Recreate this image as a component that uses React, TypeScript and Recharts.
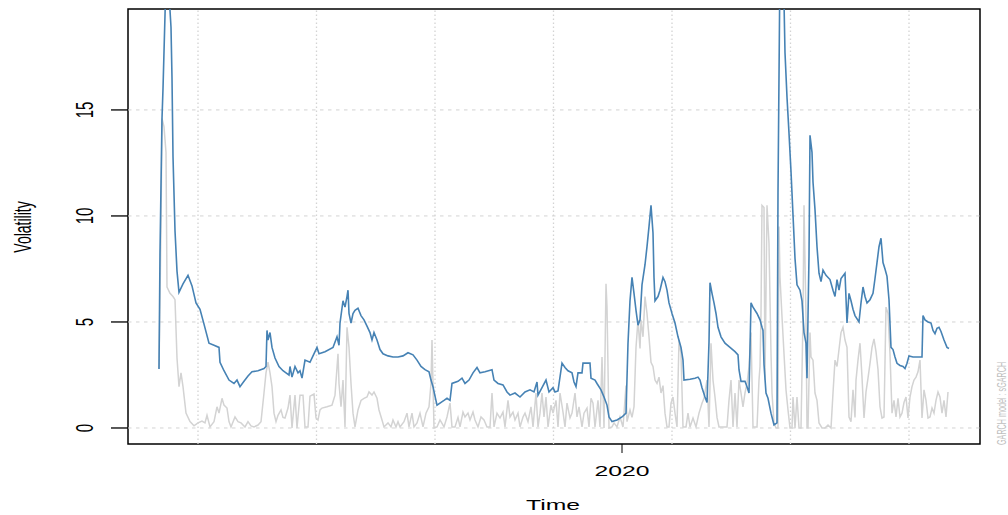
import { LineChart, Line, XAxis, YAxis, ReferenceLine, ReferenceArea } from "recharts";

// day index from the first observation, value in %
const sigma: [number, number][] = [
  [0, 2.78], [1, 8.25], [3, 14.6], [4, 16.0], [7, 21.2], [10, 20.5], [12, 18.9], [13, 16.5], [14, 12.8], [16, 9.3],
  [18, 7.4], [20, 6.4], [24, 6.8], [29, 7.2], [33, 6.7], [37, 5.9], [41, 5.6], [45, 4.9], [50, 4.0], [55, 3.9],
  [60, 3.8], [61, 3.1], [65, 2.7], [70, 2.26], [75, 2.1], [78, 2.26], [81, 1.95], [85, 2.2], [89, 2.45], [93, 2.65],
  [99, 2.7], [105, 2.8], [107, 2.9], [108, 4.6], [109, 4.15], [111, 4.5], [113, 3.8], [116, 3.3], [120, 2.9], [124, 2.7],
  [127, 2.6], [130, 2.5], [131, 2.9], [133, 2.4], [136, 2.9], [139, 2.6], [141, 2.7], [143, 2.35], [146, 3.2], [151, 3.1],
  [154, 3.4], [158, 3.8], [160, 3.5], [166, 3.6], [174, 3.8], [178, 4.3], [180, 3.9], [181, 4.95], [184, 6.0], [186, 5.7],
  [188, 6.2], [189, 6.5], [190, 5.4], [192, 4.95], [194, 5.4], [196, 5.55], [199, 5.65], [202, 5.3], [205, 5.1], [208, 4.8],
  [211, 4.5], [213, 4.15], [215, 4.5], [218, 4.15], [221, 3.7], [224, 3.5], [229, 3.4], [234, 3.35], [239, 3.35], [244, 3.4],
  [249, 3.55], [254, 3.45], [258, 3.2], [262, 2.9], [266, 2.75], [270, 2.65], [272, 2.26], [274, 1.95], [276, 1.5], [278, 1.08],
  [285, 1.3], [288, 1.4], [291, 1.3], [293, 2.1], [299, 2.2], [303, 2.35], [306, 2.1], [310, 2.26], [314, 2.6], [318, 2.85],
  [321, 2.6], [326, 2.65], [333, 2.75], [335, 2.26], [339, 2.1], [344, 2.03], [348, 1.7], [351, 1.55], [356, 1.65], [361, 1.46],
  [366, 1.7], [371, 1.8], [375, 1.7], [378, 2.17], [379, 1.55], [383, 1.9], [387, 2.26], [390, 1.7], [394, 1.9], [396, 1.7],
  [399, 1.75], [403, 3.06], [406, 2.85], [409, 2.7], [413, 2.6], [415, 2.17], [417, 1.95], [419, 2.6], [423, 2.6], [424, 3.06],
  [431, 3.06], [432, 2.35], [436, 2.26], [438, 2.1], [442, 1.8], [445, 1.46], [448, 1.08], [450, 0.52], [453, 0.3], [458, 0.38],
  [463, 0.52], [467, 0.7], [469, 4.0], [471, 6.0], [473, 7.1], [475, 6.35], [477, 5.55], [479, 4.85], [481, 5.1], [483, 6.75],
  [486, 7.7], [488, 8.55], [490, 9.5], [492, 10.5], [494, 9.2], [495, 7.1], [496, 6.0], [499, 6.2], [501, 6.5], [504, 7.1],
  [506, 6.9], [508, 6.5], [510, 5.9], [513, 5.4], [516, 4.95], [519, 4.3], [522, 3.8], [524, 3.2], [525, 2.26], [531, 2.3],
  [536, 2.35], [539, 2.4], [541, 2.26], [543, 1.9], [546, 1.46], [548, 1.2], [550, 4.05], [551, 6.85], [553, 6.35], [555, 5.9],
  [557, 5.4], [559, 4.75], [562, 4.3], [566, 4.0], [571, 3.8], [576, 3.6], [579, 3.45], [580, 2.75], [582, 2.2], [586, 2.2],
  [588, 1.95], [590, 1.65], [592, 5.9], [594, 5.7], [598, 5.4], [601, 5.1], [603, 4.75], [604, 4.6], [605, 3.0], [607, 1.65],
  [609, 1.4], [612, 0.7], [615, 0.14], [618, 0.24], [619, 11.1], [621, 22.0], [624, 22.5], [626, 17.7], [628, 15.6], [630, 13.9],
  [632, 12.1], [634, 10.05], [636, 8.0], [638, 6.75], [641, 6.5], [643, 6.0], [645, 4.5], [647, 4.0], [648, 2.35], [650, 8.1],
  [651, 13.8], [653, 13.0], [654, 11.6], [656, 10.3], [658, 8.55], [660, 7.3], [662, 6.9], [664, 7.45], [667, 7.2], [671, 7.0],
  [674, 6.5], [676, 6.2], [678, 7.0], [680, 6.5], [682, 7.05], [686, 7.3], [688, 4.95], [690, 6.35], [692, 6.0], [694, 5.6],
  [696, 5.3], [700, 5.0], [702, 5.9], [704, 6.65], [706, 6.2], [708, 5.9], [711, 6.05], [714, 6.35], [716, 7.05], [718, 7.8],
  [720, 8.55], [722, 8.95], [724, 7.8], [726, 7.5], [728, 7.15], [730, 6.05], [732, 3.8], [734, 3.7], [736, 3.35], [738, 3.05],
  [741, 2.95], [744, 2.9], [746, 2.8], [748, 3.05], [750, 3.4], [754, 3.35], [759, 3.35], [763, 3.35], [764, 5.3], [766, 5.1],
  [769, 5.0], [772, 4.95], [774, 4.6], [776, 4.45], [778, 4.7], [780, 4.75], [782, 4.55], [785, 4.15], [788, 3.8], [790, 3.75],
];

const absReturns: [number, number][] = [
  [0, 2.8], [2, 9.5], [3, 14.6], [5, 14.2], [7, 13.0], [8, 6.65], [11, 6.35], [14, 6.2], [16, 6.05], [18, 3.3],
  [20, 1.95], [22, 2.6], [24, 1.95], [27, 0.7], [31, 0.3], [35, 0.1], [39, 0.24], [43, 0.33], [46, 0.24], [48, 0.6],
  [51, 0.05], [55, 0.3], [58, 1.0], [60, 0.7], [63, 1.4], [65, 1.08], [68, 0.94], [70, 0.3], [72, 0.05], [76, 0.52],
  [79, 0.3], [82, 0.24], [86, 0.05], [89, 0.3], [92, 0.1], [95, 0.05], [99, 0.14], [102, 0.3], [105, 1.65], [107, 2.6],
  [109, 3.1], [111, 2.6], [113, 1.95], [115, 0.7], [117, 0.3], [119, 0.6], [122, 0.85], [124, 0.5], [126, 0.47], [129, 0.94],
  [131, 1.55], [133, 0], [136, 1.55], [138, 0], [141, 1.55], [144, 1.55], [146, 0.05], [149, 0.05], [151, 1.5], [155, 1.6],
  [157, 0.47], [159, 0.38], [161, 0.85], [163, 0.94], [168, 1.0], [173, 1.08], [176, 1.55], [179, 3.5], [180, 2.1], [182, 1.0],
  [184, 2.26], [186, 0.05], [188, 4.75], [190, 3.8], [192, 2.1], [194, 0.7], [196, 0.05], [199, 0.85], [202, 1.3], [205, 1.4],
  [208, 1.46], [210, 1.7], [213, 1.55], [215, 1.7], [218, 1.4], [220, 0.85], [223, 0.38], [225, 0.05], [229, 0.24], [232, 0.05],
  [234, 0.38], [237, 0.05], [239, 0.3], [241, 0.05], [245, 0.3], [248, 0.7], [250, 0.05], [253, 0.7], [255, 0.05], [258, 0.24],
  [261, 0.7], [264, 0.05], [267, 0.7], [270, 1.0], [272, 2.1], [273, 4.15], [275, 0], [278, 0.05], [281, 0.38], [282, 0.3],
  [285, 0.05], [288, 0.52], [291, 1.17], [293, 0.05], [296, 0.05], [299, 0.5], [301, 0.05], [304, 0.75], [306, 0.52], [309, 0.7],
  [311, 0.38], [314, 0.75], [316, 0.38], [319, 0.05], [322, 0.52], [325, 0.38], [328, 0.05], [331, 0.05], [333, 1.65], [335, 0.05],
  [338, 0.7], [341, 0.47], [344, 0.75], [346, 0.05], [349, 1.3], [351, 0.52], [354, 0.75], [356, 0.38], [359, 0.7], [361, 0.05],
  [364, 0.52], [366, 0.7], [369, 0.3], [372, 1.0], [374, 0.05], [377, 1.65], [379, 0.05], [381, 0.7], [383, 1.65], [385, 0.52],
  [387, 1.46], [389, 0.05], [392, 1.08], [394, 0.7], [397, 1.3], [399, 0.05], [401, 1.65], [404, 0.75], [406, 0.05], [408, 1.17],
  [411, 0.47], [413, 0.7], [416, 1.65], [418, 0.52], [420, 1.0], [423, 0.05], [425, 0.7], [428, 0.94], [430, 0.05], [432, 1.4],
  [434, 1.17], [436, 0.05], [439, 1.3], [441, 0.05], [443, 3.35], [445, 0], [447, 6.8], [448, 5.7], [450, 0], [453, 0.05],
  [455, 0.24], [458, 0.05], [461, 0.52], [464, 0.05], [467, 2.0], [468, 0.3], [471, 0.85], [473, 0.5], [475, 1.0], [477, 3.8],
  [479, 5.1], [481, 3.75], [482, 5.1], [484, 4.3], [486, 6.2], [488, 5.4], [490, 4.3], [492, 3.1], [494, 2.9], [496, 2.26],
  [498, 2.1], [500, 2.4], [502, 1.65], [504, 2.0], [506, 0.7], [508, 0.05], [510, 0.05], [512, 1.17], [514, 1.46], [516, 0.7],
  [518, 0.05], [520, 4.15], [522, 3.5], [524, 0.05], [527, 0.05], [529, 0.7], [531, 0.05], [534, 0.47], [537, 0.05], [540, 0.7],
  [543, 1.17], [545, 1.4], [548, 2.26], [550, 0.05], [552, 4.0], [554, 2.26], [556, 1.46], [558, 0.5], [560, 0.05], [562, 0.05],
  [565, 0.05], [568, 0.05], [570, 1.3], [572, 2.26], [574, 0.05], [576, 1.65], [578, 0.05], [580, 2.26], [582, 1.65], [584, 1.0],
  [586, 1.65], [588, 2.1], [590, 2.9], [592, 4.5], [594, 0.05], [596, 0.05], [598, 0.05], [600, 2.26], [601, 2.9], [602, 5.4],
  [603, 10.5], [605, 10.4], [606, 2.26], [608, 10.5], [610, 8.7], [612, 3.5], [613, 1.65], [615, 0.24], [617, 0], [619, 0],
  [620, 9.5], [621, 7.1], [623, 5.25], [625, 3.5], [627, 1.8], [629, 0.85], [631, 0], [633, 0], [634, 1.46], [636, 0],
  [638, 1.46], [640, 0], [642, 0], [644, 5.25], [645, 10.5], [647, 5.2], [648, 0], [649, 0], [651, 4.5], [652, 3.35],
  [654, 3.2], [656, 1.65], [658, 1.3], [660, 0.24], [663, 0], [666, 0], [669, 0.14], [672, 0], [674, 1.65], [676, 3.2],
  [678, 2.9], [680, 3.7], [682, 4.5], [684, 4.75], [686, 4.15], [688, 3.8], [690, 0.52], [692, 0.3], [694, 1.8], [696, 0.5],
  [697, 2.26], [699, 3.2], [701, 4.0], [703, 2.4], [705, 0.47], [707, 1.7], [709, 2.35], [711, 3.05], [713, 3.8], [715, 4.2],
  [717, 3.6], [719, 2.75], [721, 1.0], [723, 0.47], [725, 0.52], [727, 5.7], [729, 5.4], [731, 3.5], [733, 0.7], [735, 1.3],
  [737, 0.52], [739, 1.4], [741, 0.52], [743, 0.7], [745, 1.2], [747, 1.46], [749, 0.47], [751, 1.46], [753, 1.95], [755, 2.26],
  [757, 2.4], [759, 2.65], [761, 3.2], [763, 0.47], [765, 1.8], [767, 1.3], [769, 0.47], [771, 0.52], [773, 0.94], [775, 0.7],
  [777, 1.3], [779, 1.7], [781, 1.46], [783, 0.7], [785, 1.3], [787, 0.52], [789, 1.7],
];

const xDomain: [number, number] = [-31, 821];
const yDomain: [number, number] = [-0.755, 19.76];
const yTicks = [0, 5, 10, 15];
const xTicks = [463];
const xTickLabels: Record<number, string> = { 463: "2020" };
const xGrid = [39, 157.5, 276, 394.5, 513, 631.5, 750];

const FONT = "'Liberation Sans', Arial, Helvetica, sans-serif";
const SX = 1.65; // the reference is stretched horizontally

const sigmaData = sigma.map(([d, v]) => ({ d, v }));
const absData = absReturns.map(([d, v]) => ({ d, v }));

function YTick({ x, y, payload }: any) {
  return (
    <text transform={`translate(${x - 18},${y}) scale(${SX},1) rotate(-90)`} textAnchor="middle"
      fontSize={15} fontFamily={FONT} fill="#000">{payload.value}</text>
  );
}

function XTick({ x, y, payload }: any) {
  return (
    <text transform={`translate(${x},${y + 23}) scale(${SX},1)`} textAnchor="middle"
      fontSize={15} fontFamily={FONT} fill="#000">{xTickLabels[payload.value] ?? ""}</text>
  );
}

export default function App() {
  return (
    <div>
      <style>{"body{margin:0}"}</style>
      <LineChart width={1008} height={515} margin={{ top: 9, right: 28, bottom: 31, left: 68 }}>
        <XAxis type="number" dataKey="d" domain={xDomain} ticks={xTicks} allowDataOverflow height={40}
          axisLine={false} tickSize={9} tickMargin={0} tickLine={{ stroke: "#000", strokeWidth: 1 }} tick={<XTick />} />
        <YAxis type="number" domain={yDomain} ticks={yTicks} allowDataOverflow width={60}
          axisLine={false} tickSize={17} tickMargin={0} tickLine={{ stroke: "#000", strokeWidth: 1.3 }} tick={<YTick />} />
        {yTicks.map(v => (
          <ReferenceLine key={"h" + v} y={v} stroke="#d3d3d3" strokeWidth={1} strokeDasharray="3.5 4.5" />
        ))}
        {xGrid.map(v => (
          <ReferenceLine key={"v" + v} x={v} stroke="#d3d3d3" strokeWidth={1.3} strokeDasharray="1.5 2.5" />
        ))}
        <Line data={absData} dataKey="v" type="linear" stroke="#d3d3d3" strokeWidth={1.5} dot={false} activeDot={false} isAnimationActive={false} />
        <Line data={sigmaData} dataKey="v" type="linear" stroke="#4682b4" strokeWidth={1.6} dot={false} activeDot={false} isAnimationActive={false} />
        <ReferenceArea x1={xDomain[0]} x2={xDomain[1]} y1={yDomain[0]} y2={yDomain[1]} ifOverflow="visible"
          fill="none" fillOpacity={0} stroke="#000" strokeWidth={1.5} />
        <text transform={`translate(31,227) scale(${SX},1) rotate(-90)`} textAnchor="middle" fontSize={14} fontFamily={FONT} fill="#000">Volatility</text>
        <text transform={`translate(553,510) scale(${SX},1)`} textAnchor="middle" fontSize={15} fontFamily={FONT} fill="#000">Time</text>
        <text transform={`translate(1006,445) scale(${SX},1) rotate(-90)`} textAnchor="start" fontSize={7.2} fontFamily={FONT} fill="#bebebe">GARCH model : sGARCH</text>
      </LineChart>
    </div>
  );
}
